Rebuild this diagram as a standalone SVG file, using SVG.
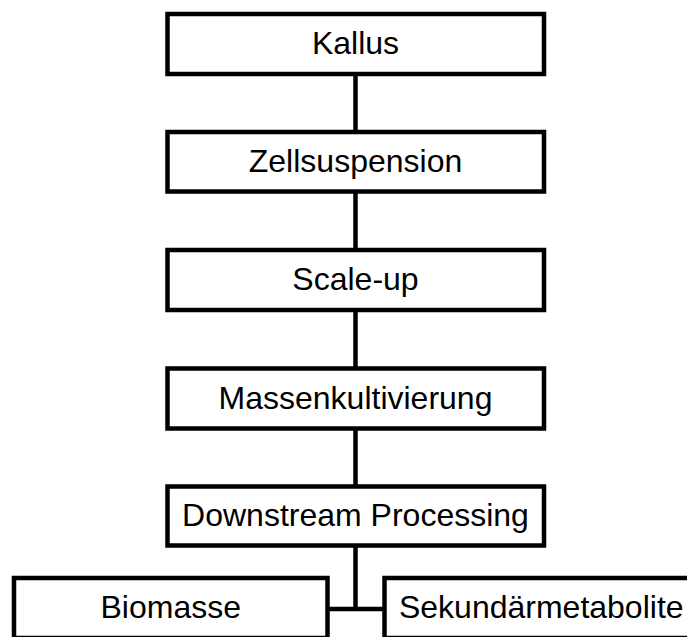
<svg xmlns="http://www.w3.org/2000/svg" width="687" height="637" viewBox="0 0 687 637">
<style>
.box{fill:#fff;stroke:#000;stroke-width:4.5}
.lbl{font-family:"Liberation Sans",Arial,sans-serif;font-size:32px;fill:#000;text-anchor:middle}
.con{stroke:#000;stroke-width:4.5;fill:none}
</style>
<rect width="687" height="637" fill="#fff"/>
<g id="connectors">
<line class="con" x1="355.5" y1="74" x2="355.5" y2="132"/>
<line class="con" x1="355.5" y1="191.5" x2="355.5" y2="250"/>
<line class="con" x1="355.5" y1="310" x2="355.5" y2="368.5"/>
<line class="con" x1="355.5" y1="428.5" x2="355.5" y2="486.5"/>
<line class="con" x1="355.5" y1="545.5" x2="355.5" y2="609"/>
<line class="con" x1="327.5" y1="609" x2="384.5" y2="609"/>
</g>
<g id="kallus"><rect class="box" x="167.5" y="14" width="376.5" height="60"/><text class="lbl" x="355.5" y="54">Kallus</text></g>
<g id="zellsuspension"><rect class="box" x="167.5" y="132" width="376.5" height="59.5"/><text class="lbl" x="355.5" y="171.5">Zellsuspension</text></g>
<g id="scaleup"><rect class="box" x="167.5" y="250" width="376.5" height="60"/><text class="lbl" x="355.5" y="290">Scale-up</text></g>
<g id="massenkultivierung"><rect class="box" x="167.5" y="368.5" width="376.5" height="60"/><text class="lbl" x="355.5" y="408.5">Massenkultivierung</text></g>
<g id="downstream"><rect class="box" x="167.5" y="486.5" width="376.5" height="59"/><text class="lbl" x="355.5" y="526">Downstream Processing</text></g>
<g id="biomasse"><rect class="box" x="14" y="578" width="313.5" height="60"/><text class="lbl" x="170.75" y="618">Biomasse</text></g>
<g id="sekundaermetabolite"><rect class="box" x="384.5" y="578" width="313.5" height="60"/><text class="lbl" x="541.25" y="618">Sekundärmetabolite</text></g>
</svg>
